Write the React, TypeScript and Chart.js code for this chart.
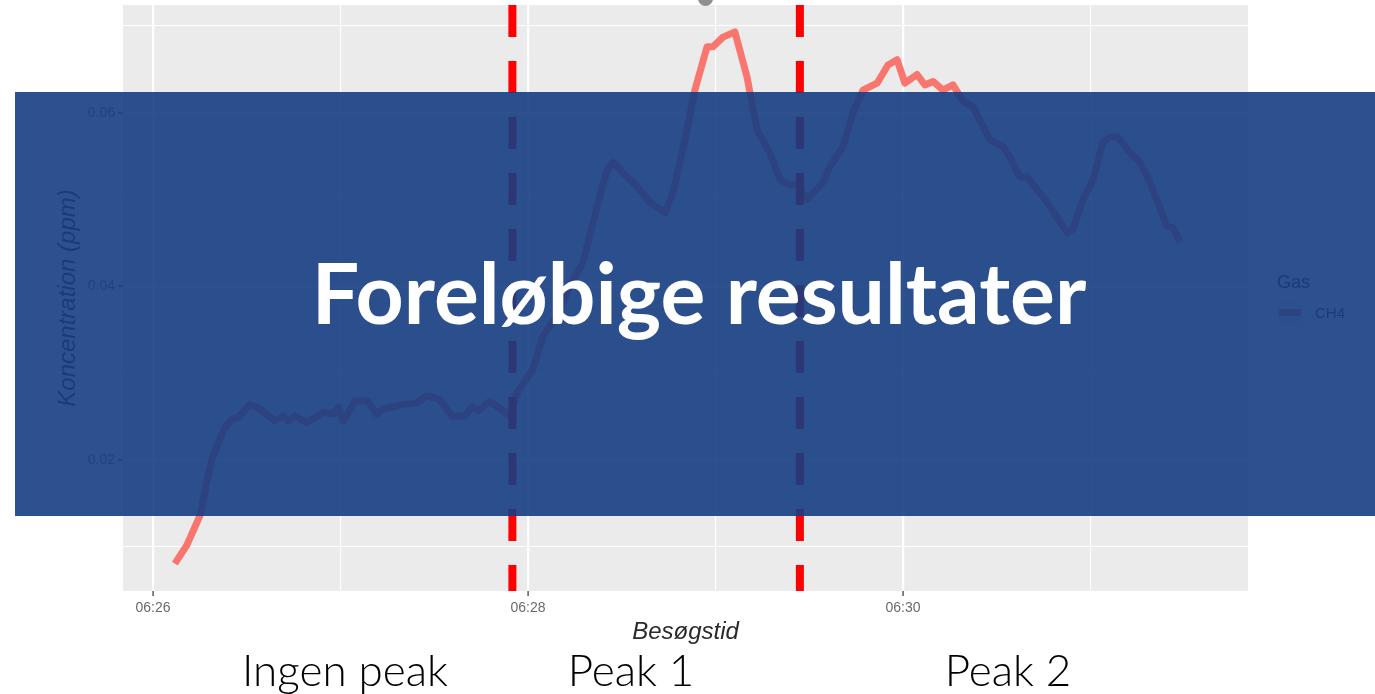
import React, { useEffect, useRef } from "react";
import { Chart, registerables } from "chart.js";

Chart.register(...registerables);

// Seconds after 06:26:00
const timeSec = [
  7.0, 10.8, 15.0, 18.8, 23.0, 25.2, 27.3, 31.0, 34.2, 39.0, 41.7, 43.3, 45.4, 49.2, 54.5, 57.7, 59.3, 60.9,
  64.6, 68.9, 71.6, 73.7, 80.1, 84.4, 87.6, 91.8, 95.6, 99.8, 102.0, 104.1, 107.8, 114.2, 116.5, 121.6,
  124.8, 129.3, 133.4, 137.6, 142.1, 145.3, 147.2, 150.4, 154.9, 159.0, 163.8, 166.4, 168.6, 170.9, 173.4,
  177.3, 179.2, 182.4, 186.2, 190.1, 193.3, 197.4, 200.6, 203.8, 206.1, 209.3, 214.4, 216.6, 220.8, 224.0,
  227.2, 231.7, 235.2, 238.1, 240.6, 244.5, 247.0, 249.6, 252.8, 256.0, 259.2, 262.4, 267.8, 272.0, 274.2,
  277.4, 279.7, 286.1, 292.5, 294.4, 297.6, 300.8, 304.0, 306.2, 308.8, 312.6, 315.8, 319.0, 324.5, 326.4,
  328.6,
];
// CH4 concentration (ppm)
const ch4Ppm = [
  0.0081, 0.0102, 0.0136, 0.0201, 0.0238, 0.0247, 0.0249, 0.0264, 0.0259, 0.0245, 0.0251, 0.0245, 0.0251,
  0.0243, 0.0255, 0.0253, 0.0261, 0.0245, 0.0268, 0.0268, 0.0253, 0.0259, 0.0264, 0.0266, 0.0274, 0.027,
  0.0251, 0.0251, 0.0261, 0.0257, 0.0268, 0.0251, 0.0278, 0.0305, 0.0343, 0.0366, 0.04, 0.0428, 0.0492,
  0.0534, 0.0543, 0.0531, 0.0515, 0.0497, 0.0485, 0.0508, 0.0543, 0.058, 0.0626, 0.0676, 0.0676, 0.0687,
  0.0693, 0.0641, 0.058, 0.0554, 0.0523, 0.0517, 0.0517, 0.05, 0.052, 0.0538, 0.0561, 0.06, 0.0626, 0.0634,
  0.0655, 0.0661, 0.0634, 0.0644, 0.0632, 0.0636, 0.0626, 0.0632, 0.0613, 0.0607, 0.0569, 0.0561, 0.0549,
  0.0526, 0.0526, 0.0497, 0.0462, 0.0466, 0.05, 0.0523, 0.0566, 0.0572, 0.0572, 0.0554, 0.0543, 0.052,
  0.0469, 0.0468, 0.0451,
];
const peakMarkerSec = [115, 207];

const xMin = -9.6;
const xMax = 350.4;
const yMin = 0.00494;
const yMax = 0.0724;

const xTickSec = [0, 60, 120, 180, 240, 300];
const xMajorSec = [0, 120, 240];
const xMajorLabels = ["06:26", "06:28", "06:30"];
const yTickValues = [0.01, 0.02, 0.03, 0.04, 0.05, 0.06, 0.07];
const yMajorValues = [0.02, 0.04, 0.06];
const yMajorLabels = ["0.02", "0.04", "0.06"];

const xTitle = "Besøgstid";
const yTitle = "Koncentration (ppm)";
const legendTitle = "Gas";
const seriesName = "CH4";
const bannerText = "Foreløbige resultater";
const segmentLabels = ["Ingen peak", "Peak 1", "Peak 2"];

const axisFont = '"Liberation Sans", Arial, sans-serif';

const xMajorIndex = (v: number) => xMajorSec.findIndex((m) => Math.abs(m - v) < 1e-6);
const yMajorIndex = (v: number) => yMajorValues.findIndex((m) => Math.abs(m - v) < 1e-9);

const panelBg = {
  id: "panelBg",
  beforeDraw(chart: any) {
    const { ctx, chartArea } = chart;
    ctx.save();
    ctx.fillStyle = "#EBEBEB";
    ctx.fillRect(chartArea.left, chartArea.top, chartArea.right - chartArea.left, chartArea.bottom - chartArea.top);
    ctx.restore();
  },
};

export default function App() {
  const canvasRef = useRef<HTMLCanvasElement | null>(null);

  useEffect(() => {
    if (!canvasRef.current) return;
    const lineData = timeSec.map((t, i) => ({ x: t, y: ch4Ppm[i] }));
    const markerSets = peakMarkerSec.map((p) => ({
      label: "marker",
      data: [
        { x: p, y: yMax },
        { x: p, y: yMin },
      ],
      borderColor: "#FF0000",
      borderWidth: 8,
      borderDash: [32, 24],
      borderCapStyle: "butt",
      pointRadius: 0,
      tension: 0,
      order: 0,
      clip: false,
    }));
    const chart = new Chart(canvasRef.current, {
      type: "line",
      data: {
        datasets: [
          {
            label: seriesName,
            data: lineData,
            borderColor: "#F8766D",
            borderWidth: 7,
            pointRadius: 0,
            tension: 0,
            borderJoinStyle: "round",
            order: 1,
          },
          ...markerSets,
        ] as any,
      },
      options: {
        responsive: false,
        animation: false,
        devicePixelRatio: 1,
        layout: { padding: { left: 54, top: 5, right: 127, bottom: 47 } },
        plugins: { legend: { display: false }, tooltip: { enabled: false } },
        scales: {
          x: {
            type: "linear",
            min: xMin,
            max: xMax,
            afterBuildTicks: (s: any) => {
              s.ticks = xTickSec.map((v) => ({ value: v }));
            },
            afterFit: (s: any) => {
              s.height = 56;
              s.paddingLeft = 0;
              s.paddingRight = 0;
              s.paddingTop = 0;
              s.paddingBottom = 0;
            },
            border: { display: false },
            grid: {
              color: "#FFFFFF",
              lineWidth: (c: any) => (c.tick && xMajorIndex(c.tick.value) >= 0 ? 2.2 : 1.1),
              drawTicks: true,
              tickLength: 5,
              tickWidth: 1.5,
              tickColor: (c: any) => (c.tick && xMajorIndex(c.tick.value) >= 0 ? "#5a5a5a" : "rgba(0,0,0,0)"),
            },
            ticks: {
              autoSkip: false,
              maxRotation: 0,
              padding: 4,
              color: "#6a6a6a",
              font: { family: axisFont, size: 14 },
              callback: (v: any) => {
                const i = xMajorIndex(Number(v));
                return i >= 0 ? xMajorLabels[i] : "";
              },
            },
            title: {
              display: true,
              text: xTitle,
              padding: 0,
              color: "#2a2a2a",
              font: { family: axisFont, size: 24, style: "italic" },
            },
          },
          y: {
            type: "linear",
            min: yMin,
            max: yMax,
            afterBuildTicks: (s: any) => {
              s.ticks = yTickValues.map((v) => ({ value: v }));
            },
            afterFit: (s: any) => {
              s.width = 69;
              s.paddingLeft = 0;
              s.paddingRight = 0;
              s.paddingTop = 0;
              s.paddingBottom = 0;
            },
            border: { display: false },
            grid: {
              color: "#FFFFFF",
              lineWidth: (c: any) => (c.tick && yMajorIndex(c.tick.value) >= 0 ? 2.2 : 1.1),
              drawTicks: true,
              tickLength: 5,
              tickWidth: 1.5,
              tickColor: (c: any) => (c.tick && yMajorIndex(c.tick.value) >= 0 ? "#5a5a5a" : "rgba(0,0,0,0)"),
            },
            ticks: {
              autoSkip: false,
              padding: 3,
              color: "#6a6a6a",
              font: { family: axisFont, size: 14 },
              callback: (v: any) => {
                const i = yMajorIndex(Number(v));
                return i >= 0 ? yMajorLabels[i] : "";
              },
            },
            title: {
              display: true,
              text: yTitle,
              padding: 0,
              color: "#2a2a2a",
              font: { family: axisFont, size: 24, style: "italic" },
            },
          },
        },
      } as any,
      plugins: [panelBg],
    });
    return () => chart.destroy();
  }, []);

  const labelCenters = [345, 631, 1008];

  return (
    <div style={{ position: "absolute", left: 0, top: 0, width: 1375, height: 694, overflow: "hidden", background: "#FFFFFF" }}>
      <canvas ref={canvasRef} width={1375} height={694} style={{ position: "absolute", left: 0, top: 0, display: "block" }} />
      {/* stray point at top edge */}
      <div style={{ position: "absolute", left: 698, top: -9, width: 15, height: 15, borderRadius: "50%", background: "#8f8f8f" }} />
      {/* legend (under banner) */}
      <div style={{ position: "absolute", left: 1277, top: 272, fontFamily: axisFont, fontSize: 18, lineHeight: "20px", color: "#2a2a2a" }}>{legendTitle}</div>
      <div style={{ position: "absolute", left: 1277, top: 301, width: 26, height: 24, background: "#F2F2F2" }} />
      <div style={{ position: "absolute", left: 1279, top: 309, width: 22, height: 7, background: "#F8766D" }} />
      <div style={{ position: "absolute", left: 1315, top: 304, fontFamily: axisFont, fontSize: 15, lineHeight: "18px", color: "#2a2a2a" }}>{seriesName}</div>
      {/* banner */}
      <div style={{ position: "absolute", left: 15, top: 92, width: 1360, height: 424, background: "rgba(22,61,130,0.9)" }} />
      <div
        style={{
          position: "absolute",
          left: 99,
          width: 1200,
          top: 250,
          textAlign: "center",
          fontFamily: "Lato, 'Open Sans', sans-serif",
          fontWeight: 700,
          fontSize: 84,
          lineHeight: "84px",
          color: "#FFFFFF",
          whiteSpace: "nowrap",
        }}
      >
        {bannerText}
      </div>
      {segmentLabels.map((t, i) => (
        <div
          key={t}
          style={{
            position: "absolute",
            left: labelCenters[i] - 200,
            width: 400,
            top: 647,
            textAlign: "center",
            fontFamily: "Lato, 'Open Sans', sans-serif",
            fontWeight: 300,
            fontSize: 44,
            lineHeight: "44px",
            color: "#000000",
            whiteSpace: "nowrap",
          }}
        >
          {t}
        </div>
      ))}
    </div>
  );
}
